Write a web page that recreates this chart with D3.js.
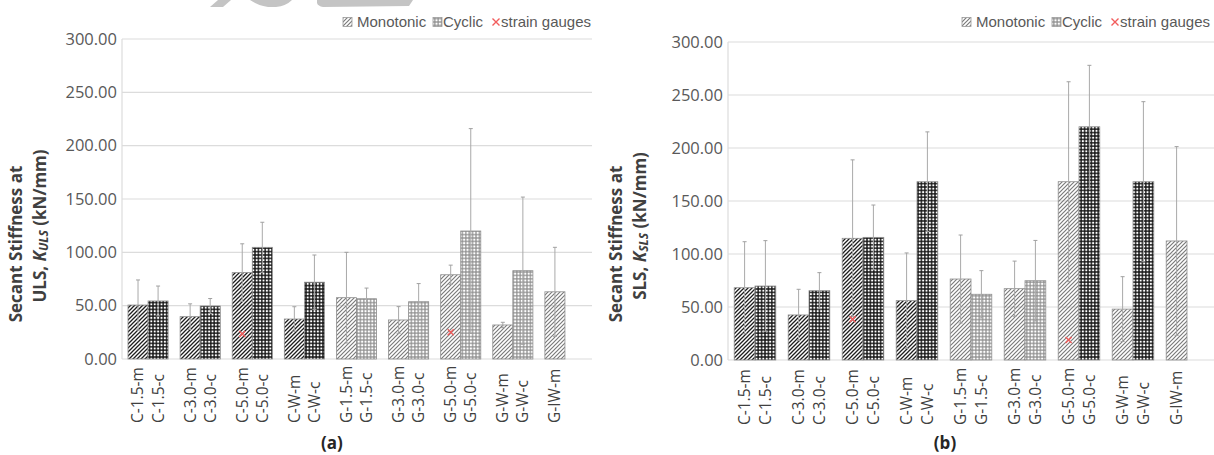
<!DOCTYPE html>
<html>
<head>
<meta charset="utf-8">
<script src="https://cdn.jsdelivr.net/npm/d3@7"></script>
<style>
  body { margin: 0; background: #fff; }
  svg { display: block; }
</style>
</head>
<body>
<svg id="chart" width="1214" height="455"></svg>
<script>
// specimen names, one bar each
var specimens = ["C-1.5-m","C-1.5-c","C-3.0-m","C-3.0-c","C-5.0-m","C-5.0-c","C-W-m","C-W-c",
  "G-1.5-m","G-1.5-c","G-3.0-m","G-3.0-c","G-5.0-m","G-5.0-c","G-W-m","G-W-c","G-IW-m"]
var groups = ["C-1.5","C-3.0","C-5.0","C-W","G-1.5","G-3.0","G-5.0","G-W","G-IW"]

// (a) ULS secant stiffness, mean and error (kN/mm)
var ulsMean = [50.6, 54.4, 39.7, 49.7, 81, 104.7, 37.5, 72, 57.5, 56.5, 36.6, 53.7, 79, 120, 31.9, 82.8, 63]
var ulsErr  = [23.5, 14, 12, 7, 27, 23.5, 11.5, 25.5, 42.5, 10, 12.5, 17, 9, 96, 2.5, 69, 41.7]
// (b) SLS secant stiffness
var slsMean = [68.2, 69.8, 42.5, 65.4, 114.8, 115.7, 56, 168.2, 76.4, 62, 67.3, 74.8, 168.2, 220, 48, 168.2, 112.3]
var slsErr  = [43.4, 42.8, 24.2, 17, 74, 30.5, 45, 47, 41.5, 22.3, 26, 38, 94.3, 58, 30.6, 75.5, 89]

// strain gauge readings
var gaugeSpecimens = ["C-5.0-m", "G-5.0-m"]
var ulsGauge = [23.4, 25]
var slsGauge = [38.4, 18.9]

var yTicks = [0, 50, 100, 150, 200, 250, 300]

var svg = d3.select("#chart")
var defs = svg.append("defs")

function hatch(id, col, w){
  defs.append("pattern").attr("id", id)
    .attr("patternUnits", "userSpaceOnUse").attr("width", 4).attr("height", 4)
    .append("path")
      .attr("d", "M-1,1 l2,-2 M0,4 l4,-4 M3,5 l2,-2")
      .attr("stroke", col).attr("stroke-width", w)
}
function grid(id, col, bg, s, hole){
  var p = defs.append("pattern").attr("id", id)
    .attr("patternUnits", "userSpaceOnUse").attr("width", s).attr("height", s)
  p.append("rect").attr("width", s).attr("height", s).attr("fill", col)
  p.append("rect").attr("x", (s-hole)/2).attr("y", (s-hole)/2)
    .attr("width", hole).attr("height", hole).attr("fill", bg)
}
hatch("hatchDark", "#1e1e1e", 1.3)
hatch("hatchLight", "#7a7a7a", 1.2)
grid("gridDark", "#151515", "#fff", 3.4, 2.0)
grid("gridLight", "#8e8e8e", "#fff", 3.4, 2.2)

// grey fragment at the top edge
svg.append("path").attr("d", "M210,7 L223,7 L231,0 L218,0 Z").attr("fill", "#c4c4c4")
svg.append("path").attr("d", "M250,0 Q262,8 276,7 Q286,6 292,0 Z").attr("fill", "#c4c4c4")
svg.append("path").attr("d", "M317,0 L413,0 L409,6 L323,7 Q318,6 317,3 Z").attr("fill", "#c4c4c4")

function drawChart(cfg){
  var g = svg.append("g")

  var y = d3.scaleLinear().domain([0, 300]).range([cfg.y0, cfg.y300])
  var xg = d3.scaleBand().domain(groups).range([cfg.left, cfg.right])
    .paddingInner(0.23).paddingOuter(0.115)
  var xs = d3.scaleBand().domain(["m", "c"]).range([0, xg.bandwidth()])

  function barX(name){
    var grp = name.slice(0, name.lastIndexOf("-"))
    var kind = name.slice(name.lastIndexOf("-") + 1)
    return xg(grp) + xs(kind)
  }
  function fillFor(name){
    var kind = name.slice(-1)
    var dark = name[0] == "C" || cfg.darkBars.indexOf(name) >= 0
    if (kind == "m") return dark ? "url(#hatchDark)" : "url(#hatchLight)"
    return dark ? "url(#gridDark)" : "url(#gridLight)"
  }

  // gridlines
  g.selectAll("line.grid").data(yTicks).enter().append("line")
    .attr("x1", cfg.left).attr("x2", cfg.gridRight)
    .attr("y1", function(d){ return y(d) }).attr("y2", function(d){ return y(d) })
    .attr("stroke", "#dcdcdc").attr("stroke-width", 1.2)
  g.append("line").attr("x1", cfg.left).attr("x2", cfg.left)
    .attr("y1", y(300)).attr("y2", y(0)).attr("stroke", "#dcdcdc").attr("stroke-width", 1.2)

  // y tick labels
  g.selectAll("text.ytick").data(yTicks).enter().append("text")
    .attr("x", cfg.left - 5).attr("y", function(d){ return y(d) })
    .attr("dy", "0.35em").attr("text-anchor", "end")
    .attr("font-family", "Open Sans").attr("font-size", 16.5).attr("fill", "#595959")
    .text(function(d){ return d.toFixed(2) })

  var rows = specimens.map(function(s, i){ return {name: s, v: cfg.mean[i], e: cfg.err[i]} })

  g.selectAll("rect.bar").data(rows).enter().append("rect")
    .attr("x", function(d){ return barX(d.name) })
    .attr("width", xs.bandwidth())
    .attr("y", function(d){ return y(d.v) })
    .attr("height", function(d){ return y(0) - y(d.v) })
    .attr("fill", function(d){ return fillFor(d.name) })
    .attr("stroke", "#8f8f8f").attr("stroke-width", 0.8)

  // error bars
  var eb = g.selectAll("g.err").data(rows).enter().append("g")
    .attr("transform", function(d){ return "translate(" + (barX(d.name) + xs.bandwidth()/2) + ",0)" })
  eb.append("line")
    .attr("y1", function(d){ return y(d.v + d.e) }).attr("y2", function(d){ return y(d.v - d.e) })
    .attr("stroke", "#a9a9a9").attr("stroke-width", 1)
  eb.append("line").attr("x1", -2).attr("x2", 2)
    .attr("y1", function(d){ return y(d.v + d.e) }).attr("y2", function(d){ return y(d.v + d.e) })
    .attr("stroke", "#a0a0a0").attr("stroke-width", 1)
  eb.append("line").attr("x1", -2).attr("x2", 2)
    .attr("y1", function(d){ return y(d.v - d.e) }).attr("y2", function(d){ return y(d.v - d.e) })
    .attr("stroke", "#a0a0a0").attr("stroke-width", 1)

  // strain gauge markers
  g.selectAll("path.gauge").data(gaugeSpecimens).enter().append("path")
    .attr("transform", function(d, i){
      return "translate(" + (barX(d) + xs.bandwidth()/2) + "," + y(cfg.gauge[i]) + ")" })
    .attr("d", "M-3,-3 L3,3 M-3,3 L3,-3")
    .attr("stroke", "#f25c5c").attr("stroke-width", 1.4)

  // category labels
  g.selectAll("text.cat").data(specimens).enter().append("text")
    .attr("transform", function(d){
      return "translate(" + (barX(d) + xs.bandwidth()/2) + "," + cfg.labelY + ") rotate(-90)" })
    .attr("dy", "0.35em").attr("text-anchor", "start")
    .attr("font-family", "Open Sans").attr("font-size", 15.5).attr("fill", "#404040")
    .text(function(d){ return d })

  // axis title
  g.append("text")
    .attr("transform", "translate(" + cfg.titleX1 + "," + cfg.titleY1 + ") rotate(-90)")
    .attr("text-anchor", "middle").attr("font-family", "Open Sans").attr("font-weight", "bold")
    .attr("font-size", 17).attr("fill", "#404040")
    .text("Secant Stiffness at")
  var t2 = g.append("text")
    .attr("transform", "translate(" + cfg.titleX2 + "," + cfg.titleY2 + ") rotate(-90)")
    .attr("text-anchor", "middle").attr("font-family", "Open Sans").attr("font-weight", "bold")
    .attr("font-size", 17).attr("fill", "#404040")
  t2.append("tspan").text(cfg.limit + ", ")
  t2.append("tspan").attr("font-style", "italic").text("K")
  t2.append("tspan").attr("font-style", "italic").attr("font-size", 12).attr("dy", 2).text(cfg.limit)
  t2.append("tspan").attr("dy", -2).text(" (kN/mm)")

  // legend
  var lg = g.append("g").attr("transform", "translate(" + cfg.legendX + ",22)")
  lg.append("rect").attr("x", 0).attr("y", -4.5).attr("width", 9).attr("height", 9)
    .attr("fill", "url(#hatchLight)").attr("stroke", "#999").attr("stroke-width", 0.8)
  lg.append("text").attr("x", 14).attr("dy", "0.35em")
    .attr("font-family", "Liberation Sans").attr("font-size", 15).attr("fill", "#595959").text("Monotonic")
  lg.append("rect").attr("x", 90).attr("y", -4.5).attr("width", 9).attr("height", 9)
    .attr("fill", "url(#gridLight)").attr("stroke", "#999").attr("stroke-width", 0.8)
  lg.append("text").attr("x", 100).attr("dy", "0.35em")
    .attr("font-family", "Liberation Sans").attr("font-size", 15).attr("fill", "#595959").text("Cyclic")
  lg.append("path").attr("transform", "translate(153,0)")
    .attr("d", "M-3.5,-3.5 L3.5,3.5 M-3.5,3.5 L3.5,-3.5")
    .attr("stroke", "#f25c5c").attr("stroke-width", 1.4)
  lg.append("text").attr("x", 158).attr("dy", "0.35em")
    .attr("font-family", "Liberation Sans").attr("font-size", 15).attr("fill", "#595959").text("strain gauges")

  // panel caption
  g.append("text").attr("x", cfg.captionX).attr("y", 449).attr("text-anchor", "middle")
    .attr("font-family", "Open Sans").attr("font-weight", "bold").attr("font-size", 17)
    .attr("fill", "#262626").text(cfg.caption)
}

drawChart({
  mean: ulsMean, err: ulsErr, gauge: ulsGauge, limit: "ULS", darkBars: [],
  left: 122, right: 591, gridRight: 592, y0: 359, y300: 39, labelY: 423,
  titleX1: 22, titleY1: 244, titleX2: 46, titleY2: 226,
  legendX: 343, captionX: 332, caption: "(a)"
})
drawChart({
  mean: slsMean, err: slsErr, gauge: slsGauge, limit: "SLS", darkBars: ["G-5.0-c", "G-W-c"],
  left: 728, right: 1214, gridRight: 1214, y0: 360, y300: 42, labelY: 425,
  titleX1: 622, titleY1: 244, titleX2: 646, titleY2: 226,
  legendX: 962, captionX: 945, caption: "(b)"
})
</script>
</body>
</html>
